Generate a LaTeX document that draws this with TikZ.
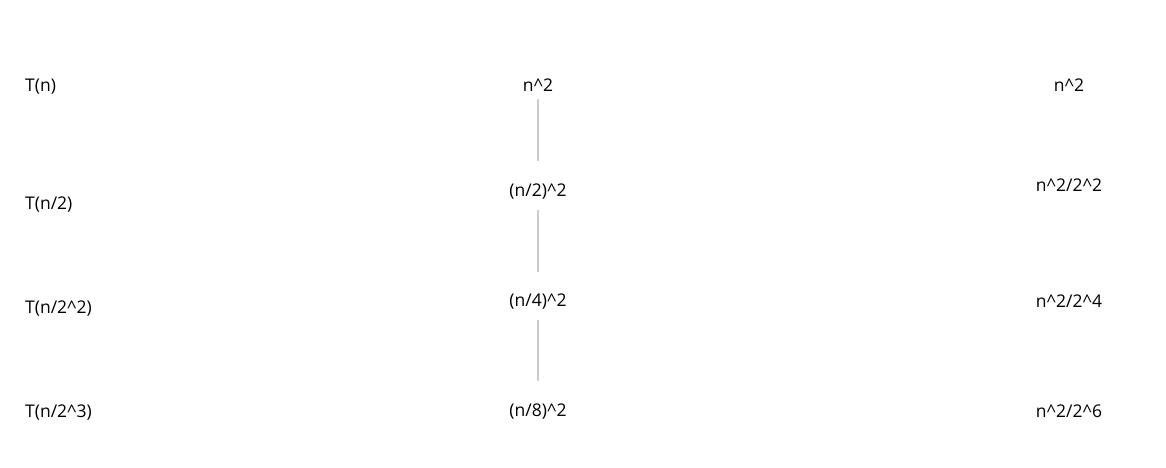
\documentclass[tikz,border=0pt]{standalone}
\usepackage{fontspec}
\setmainfont{Open Sans}
\begin{document}
\begin{tikzpicture}[x=1pt,y=-1pt,
  lbl/.style={inner sep=0pt,font=\fontsize{17.5}{20}\selectfont},
  lft/.style={lbl,anchor=base west},
  mid/.style={lbl,anchor=base},
  link/.style={draw=black!20,line width=1.6pt}]
\useasboundingbox (0,0) rectangle (1166,468);
% left column
\node[lft] (l1) at (25,92) {T(n)};
\node[lft] (l2) at (25,209) {T(n/2)};
\node[lft] (l3) at (25,313) {T(n/2\^{}2)};
\node[lft] (l4) at (25,417) {T(n/2\^{}3)};
% middle column
\node[mid] (m1) at (538,92) {n\^{}2};
\node[mid] (m2) at (538,196) {(n/2)\^{}2};
\node[mid] (m3) at (538,306) {(n/4)\^{}2};
\node[mid] (m4) at (538,416) {(n/8)\^{}2};
% right column
\node[mid] (r1) at (1069,92) {n\^{}2};
\node[mid] (r2) at (1069,191) {n\^{}2/2\^{}2};
\node[mid] (r3) at (1069,307) {n\^{}2/2\^{}4};
\node[mid] (r4) at (1069,417) {n\^{}2/2\^{}6};
% connectors
\draw[link,shorten <=7pt,shorten >=35pt] (m1.base) -- (m2.base);
\draw[link,shorten <=14pt,shorten >=34pt] (m2.base) -- (m3.base);
\draw[link,shorten <=14pt,shorten >=35pt] (m3.base) -- (m4.base);
\end{tikzpicture}
\end{document}
